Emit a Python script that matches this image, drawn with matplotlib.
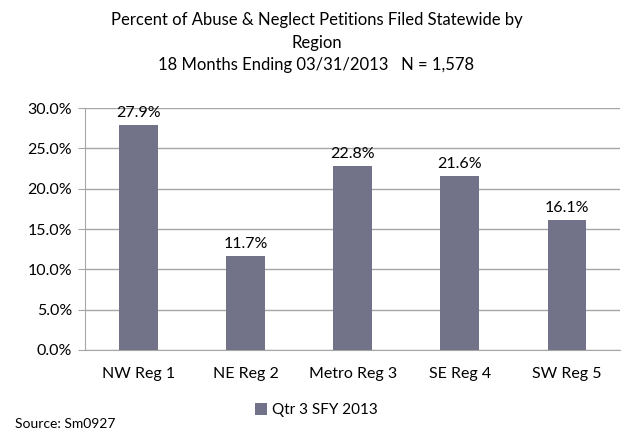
import matplotlib.pyplot as plt
from matplotlib.ticker import PercentFormatter

regions = ["NW Reg 1", "NE Reg 2", "Metro Reg 3", "SE Reg 4", "SW Reg 5"]
percents = [27.9, 11.7, 22.8, 21.6, 16.1]
series_name = "Qtr 3 SFY 2013"

plt.rcParams["font.family"] = ["Lato", "DejaVu Sans"]

fig = plt.figure(figsize=(6.33, 4.38), dpi=100)
ax = fig.add_axes([0.134, 0.201, 0.846, 0.552])

bar_color = "#727289"
bars = ax.bar(regions, percents, width=0.36, color=bar_color, label=series_name, zorder=3)
for b, v in zip(bars, percents):
    ax.text(b.get_x() + b.get_width() / 2, v + 0.6, f"{v:.1f}%",
            ha="center", va="bottom", fontsize=11.5)

ax.set_ylim(0, 30)
ax.set_yticks(range(0, 31, 5))
ax.yaxis.set_major_formatter(PercentFormatter(decimals=1))
ax.set_xlim(-0.5, 4.5)
ax.grid(axis="y", color="#a6a6a6", linewidth=1, zorder=0)
for s in ["top", "right"]:
    ax.spines[s].set_visible(False)
ax.spines["left"].set_color("#a6a6a6")
ax.spines["bottom"].set_color("#a6a6a6")
ax.tick_params(axis="y", length=5, color="#a6a6a6", labelsize=11.5, pad=4)
ax.tick_params(axis="x", length=0, labelsize=11.5, pad=12)

fig.text(0.5, 0.972, "Percent of Abuse & Neglect Petitions Filed Statewide by\nRegion\n18 Months Ending 03/31/2013   N = 1,578",
         ha="center", va="top", fontsize=12, linespacing=1.5)

fig.legend(loc="center", bbox_to_anchor=(0.5, 0.063), frameon=False, fontsize=11,
           handlelength=0.8, handleheight=0.8, handletextpad=0.3)
fig.text(0.024, 0.018, "Source: Sm0927", fontsize=10, ha="left", va="bottom")

fig.savefig("out.png", dpi=100)
